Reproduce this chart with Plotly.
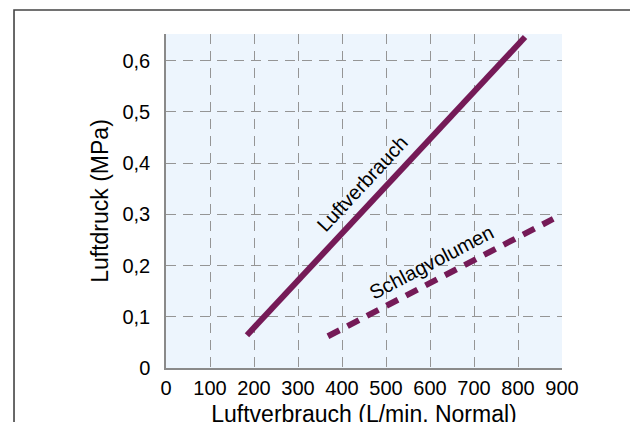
import plotly.graph_objects as go

# Data
luft_x = [184, 816]
luft_y = [0.064, 0.646]
schlag_x = [368, 880]
schlag_y = [0.062, 0.291]

x_ticks = [0, 100, 200, 300, 400, 500, 600, 700, 800, 900]
y_ticks = [0, 0.1, 0.2, 0.3, 0.4, 0.5, 0.6]
y_ticktext = ["0", "0,1", "0,2", "0,3", "0,4", "0,5", "0,6"]

line_color = "#751a57"
font_family = "Liberation Sans, Arial, sans-serif"

fig = go.Figure()
fig.add_trace(go.Scatter(x=luft_x, y=luft_y, mode="lines",
                         line=dict(color=line_color, width=6), showlegend=False))
fig.add_trace(go.Scatter(x=schlag_x, y=schlag_y, mode="lines",
                         line=dict(color=line_color, width=6, dash="13px,9px"),
                         showlegend=False))

fig.add_annotation(x=445, y=0.36, text="Luftverbrauch", showarrow=False,
                   textangle=-47, font=dict(size=20, color="black", family=font_family))
fig.add_annotation(x=604, y=0.207, text="Schlagvolumen", showarrow=False,
                   textangle=-27.5, font=dict(size=20, color="black", family=font_family))

# outer frame
fig.add_shape(type="rect", xref="paper", yref="paper",
              x0=-0.3838, x1=1.1818, y0=-0.25, y1=1.0719,
              line=dict(color="#444444", width=1.6), fillcolor="rgba(0,0,0,0)", layer="below")

grid = dict(showgrid=True, gridcolor="#959595", gridwidth=1.3, griddash="10px,7px")

fig.update_layout(
    width=638, height=422,
    margin=dict(l=158, r=84, t=26, b=62, autoexpand=False),
    paper_bgcolor="white",
    plot_bgcolor="#edf5fd",
    font=dict(family=font_family, color="black"),
    xaxis=dict(range=[0, 900], tickvals=x_ticks, ticks="", showline=True,
               linecolor="#8a8a8a", linewidth=1.5, zeroline=False, automargin=False,
               tickfont=dict(size=20), ticklabelstandoff=1,
               title=dict(text="Luftverbrauch (L/min. Normal)", font=dict(size=23), standoff=8),
               **grid),
    yaxis=dict(range=[0, 0.652], tickvals=y_ticks, ticktext=y_ticktext, ticks="",
               showline=True, linecolor="#8a8a8a", linewidth=1.5, zeroline=False, automargin=False,
               tickfont=dict(size=20), ticklabelstandoff=10,
               title=dict(text="Luftdruck (MPa)", font=dict(size=23), standoff=7),
               **grid),
)

fig.write_html("out.html")
